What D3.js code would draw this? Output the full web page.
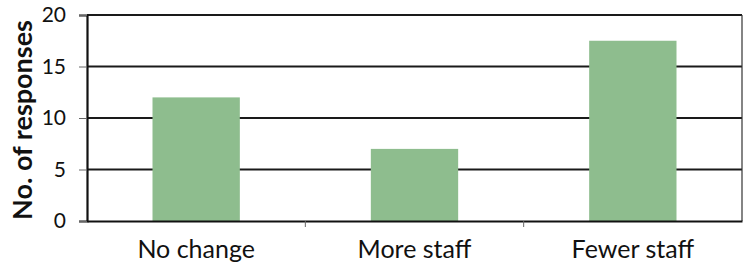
<!DOCTYPE html>
<html>
<head>
<meta charset="utf-8">
<script src="https://cdn.jsdelivr.net/npm/d3@7"></script>
<style>
  body { margin: 0; background: #fff; }
  text { font-family: Lato, "Open Sans", sans-serif; fill: #111; }
</style>
</head>
<body>
<div id="viz"></div>
<script>
const categories = ['No change', 'More staff', 'Fewer staff'];
const responses = [12, 7, 17.5];
const yTicks = [0, 5, 10, 15, 20];

const width = 743;
const height = 271;
const margin = { top: 15, right: 1, bottom: 50, left: 87 };

const svg = d3.select('#viz')
  .append('svg')
  .attr('width', width)
  .attr('height', height);

const x = d3.scaleBand()
  .domain(categories)
  .range([margin.left, width - margin.right])
  .paddingInner(0.6)
  .paddingOuter(0.3);

const xTicks = d3.scaleBand()
  .domain(categories)
  .range([margin.left, width - margin.right]);

const y = d3.scaleLinear()
  .domain([0, 20])
  .range([height - margin.bottom, margin.top]);

// gridlines
svg.append('g')
  .selectAll('line')
  .data(yTicks.slice(1))
  .join('line')
  .attr('x1', margin.left)
  .attr('x2', width - margin.right)
  .attr('y1', d => y(d))
  .attr('y2', d => y(d))
  .attr('stroke', '#1a1a1a')
  .attr('stroke-width', 1.8);

// right border
svg.append('line')
  .attr('x1', width - margin.right).attr('x2', width - margin.right)
  .attr('y1', y(20)).attr('y2', y(0))
  .attr('stroke', '#333')
  .attr('stroke-width', 1.2);

// bars
svg.append('g')
  .selectAll('rect')
  .data(responses)
  .join('rect')
  .attr('x', (d, i) => x(categories[i]))
  .attr('y', d => y(d))
  .attr('width', x.bandwidth())
  .attr('height', d => y(0) - y(d))
  .attr('fill', '#8ebd8e');

// y axis
const yAxis = svg.append('g')
  .attr('transform', `translate(${margin.left},0)`)
  .call(d3.axisLeft(y).tickValues(yTicks).tickSize(8).tickPadding(13));
yAxis.select('.domain').attr('stroke', '#111').attr('stroke-width', 2.2);
yAxis.selectAll('.tick line').attr('stroke', '#666').attr('stroke-width', 1);
yAxis.selectAll('.tick text')
  .attr('font-size', 21)
  .style('font-family', 'Lato, sans-serif');

// x axis with ticks between categories
const xAxis = svg.append('g')
  .attr('transform', `translate(0,${y(0)})`)
  .call(d3.axisBottom(x).tickSize(0).tickPadding(19).tickSizeOuter(0));
xAxis.select('.domain').attr('stroke', '#111').attr('stroke-width', 2.2);
xAxis.selectAll('.tick text')
  .attr('font-size', 25)
  .style('font-family', 'Lato, sans-serif');

svg.append('g')
  .selectAll('line')
  .data(categories.slice(1))
  .join('line')
  .attr('x1', d => xTicks(d))
  .attr('x2', d => xTicks(d))
  .attr('y1', y(0))
  .attr('y2', y(0) + 6)
  .attr('stroke', '#666');

// y title
svg.append('text')
  .attr('transform', `translate(32,${(y(0) + y(20)) / 2 + 2}) rotate(-90)`)
  .attr('text-anchor', 'middle')
  .attr('font-size', 27)
  .attr('font-weight', 'bold')
  .text('No. of responses');
</script>
</body>
</html>
